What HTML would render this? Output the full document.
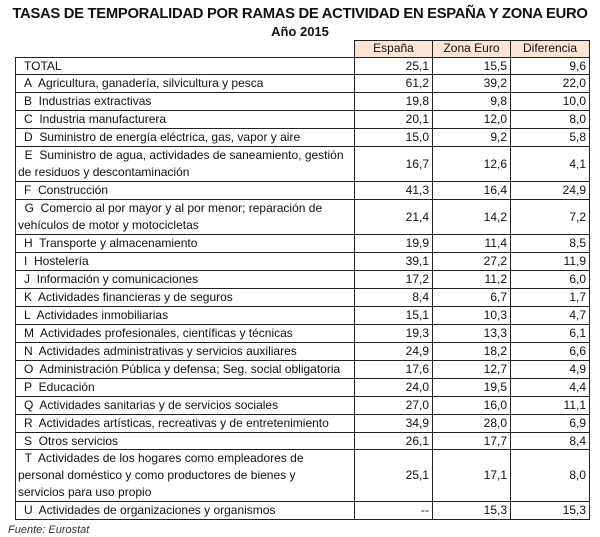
<!DOCTYPE html>
<html><head><meta charset="utf-8"><style>
body{margin:0;background:#fff;width:600px;height:537px;overflow:hidden;font-family:"Liberation Sans",sans-serif;color:#111}
.t1{position:absolute;top:6px;left:0;width:600px;text-align:center;font-weight:bold;font-size:14.8px;letter-spacing:-0.3px}
.t2{position:absolute;top:24px;left:0;width:600px;text-align:center;font-weight:bold;font-size:13px}
table{position:absolute;left:15px;top:40px;border-collapse:collapse;font-size:12px;table-layout:fixed}
td{border:1px solid #222;padding:0 3px;line-height:16.95px;height:16.95px;white-space:nowrap;overflow:hidden}
td.n{text-align:right;vertical-align:middle}
td.l{padding-left:8px}
tr.h td{background:#fbe4d5;text-align:center;line-height:15.5px;height:15.5px}
tr.h td.e{background:#fff;border:none;border-bottom:1px solid #222}
.f{position:absolute;left:8px;top:524px;font-style:italic;font-size:11px;color:#333}
</style></head><body>
<div class="t1">TASAS DE TEMPORALIDAD POR RAMAS DE ACTIVIDAD EN ESPAÑA Y ZONA EURO</div>
<div class="t2">Año 2015</div>
<table>
<colgroup><col style="width:339px"><col style="width:78px"><col style="width:78px"><col style="width:79px"></colgroup>
<tr class="h"><td class="e"></td><td>España</td><td>Zona Euro</td><td>Diferencia</td></tr>
<tr><td class="l">TOTAL</td><td class="n">25,1</td><td class="n">15,5</td><td class="n">9,6</td></tr>
<tr><td class="l">A&nbsp; Agricultura, ganadería, silvicultura y pesca</td><td class="n">61,2</td><td class="n">39,2</td><td class="n">22,0</td></tr>
<tr><td class="l">B&nbsp; Industrias extractivas</td><td class="n">19,8</td><td class="n">9,8</td><td class="n">10,0</td></tr>
<tr><td class="l">C&nbsp; Industria manufacturera</td><td class="n">20,1</td><td class="n">12,0</td><td class="n">8,0</td></tr>
<tr><td class="l">D&nbsp; Suministro de energía eléctrica, gas, vapor y aire</td><td class="n">15,0</td><td class="n">9,2</td><td class="n">5,8</td></tr>
<tr><td style="padding-left:2px">&nbsp;&nbsp;E&nbsp; Suministro de agua, actividades de saneamiento, gestión<br>de residuos y descontaminación</td><td class="n">16,7</td><td class="n">12,6</td><td class="n">4,1</td></tr>
<tr><td class="l">F&nbsp; Construcción</td><td class="n">41,3</td><td class="n">16,4</td><td class="n">24,9</td></tr>
<tr><td style="padding-left:2px">&nbsp;&nbsp;G&nbsp; Comercio al por mayor y al por menor; reparación de<br>vehículos de motor y motocicletas</td><td class="n">21,4</td><td class="n">14,2</td><td class="n">7,2</td></tr>
<tr><td class="l">H&nbsp; Transporte y almacenamiento</td><td class="n">19,9</td><td class="n">11,4</td><td class="n">8,5</td></tr>
<tr><td class="l">I&nbsp; Hostelería</td><td class="n">39,1</td><td class="n">27,2</td><td class="n">11,9</td></tr>
<tr><td class="l">J&nbsp; Información y comunicaciones</td><td class="n">17,2</td><td class="n">11,2</td><td class="n">6,0</td></tr>
<tr><td class="l">K&nbsp; Actividades financieras y de seguros</td><td class="n">8,4</td><td class="n">6,7</td><td class="n">1,7</td></tr>
<tr><td class="l">L&nbsp; Actividades inmobiliarias</td><td class="n">15,1</td><td class="n">10,3</td><td class="n">4,7</td></tr>
<tr><td class="l">M&nbsp; Actividades profesionales, científicas y técnicas</td><td class="n">19,3</td><td class="n">13,3</td><td class="n">6,1</td></tr>
<tr><td class="l">N&nbsp; Actividades administrativas y servicios auxiliares</td><td class="n">24,9</td><td class="n">18,2</td><td class="n">6,6</td></tr>
<tr><td class="l">O&nbsp; Administración Pública y defensa; Seg. social obligatoria</td><td class="n">17,6</td><td class="n">12,7</td><td class="n">4,9</td></tr>
<tr><td class="l">P&nbsp; Educación</td><td class="n">24,0</td><td class="n">19,5</td><td class="n">4,4</td></tr>
<tr><td class="l">Q&nbsp; Actividades sanitarias y de servicios sociales</td><td class="n">27,0</td><td class="n">16,0</td><td class="n">11,1</td></tr>
<tr><td class="l">R&nbsp; Actividades artísticas, recreativas y de entretenimiento</td><td class="n">34,9</td><td class="n">28,0</td><td class="n">6,9</td></tr>
<tr><td class="l">S&nbsp; Otros servicios</td><td class="n">26,1</td><td class="n">17,7</td><td class="n">8,4</td></tr>
<tr><td style="padding-left:2px">&nbsp;&nbsp;T&nbsp; Actividades de los hogares como empleadores de<br>personal doméstico y como productores de bienes y<br>servicios para uso propio</td><td class="n">25,1</td><td class="n">17,1</td><td class="n">8,0</td></tr>
<tr><td class="l">U&nbsp; Actividades de organizaciones y organismos</td><td class="n">--</td><td class="n">15,3</td><td class="n">15,3</td></tr>
</table>
<div class="f">Fuente: Eurostat</div>
</body></html>
